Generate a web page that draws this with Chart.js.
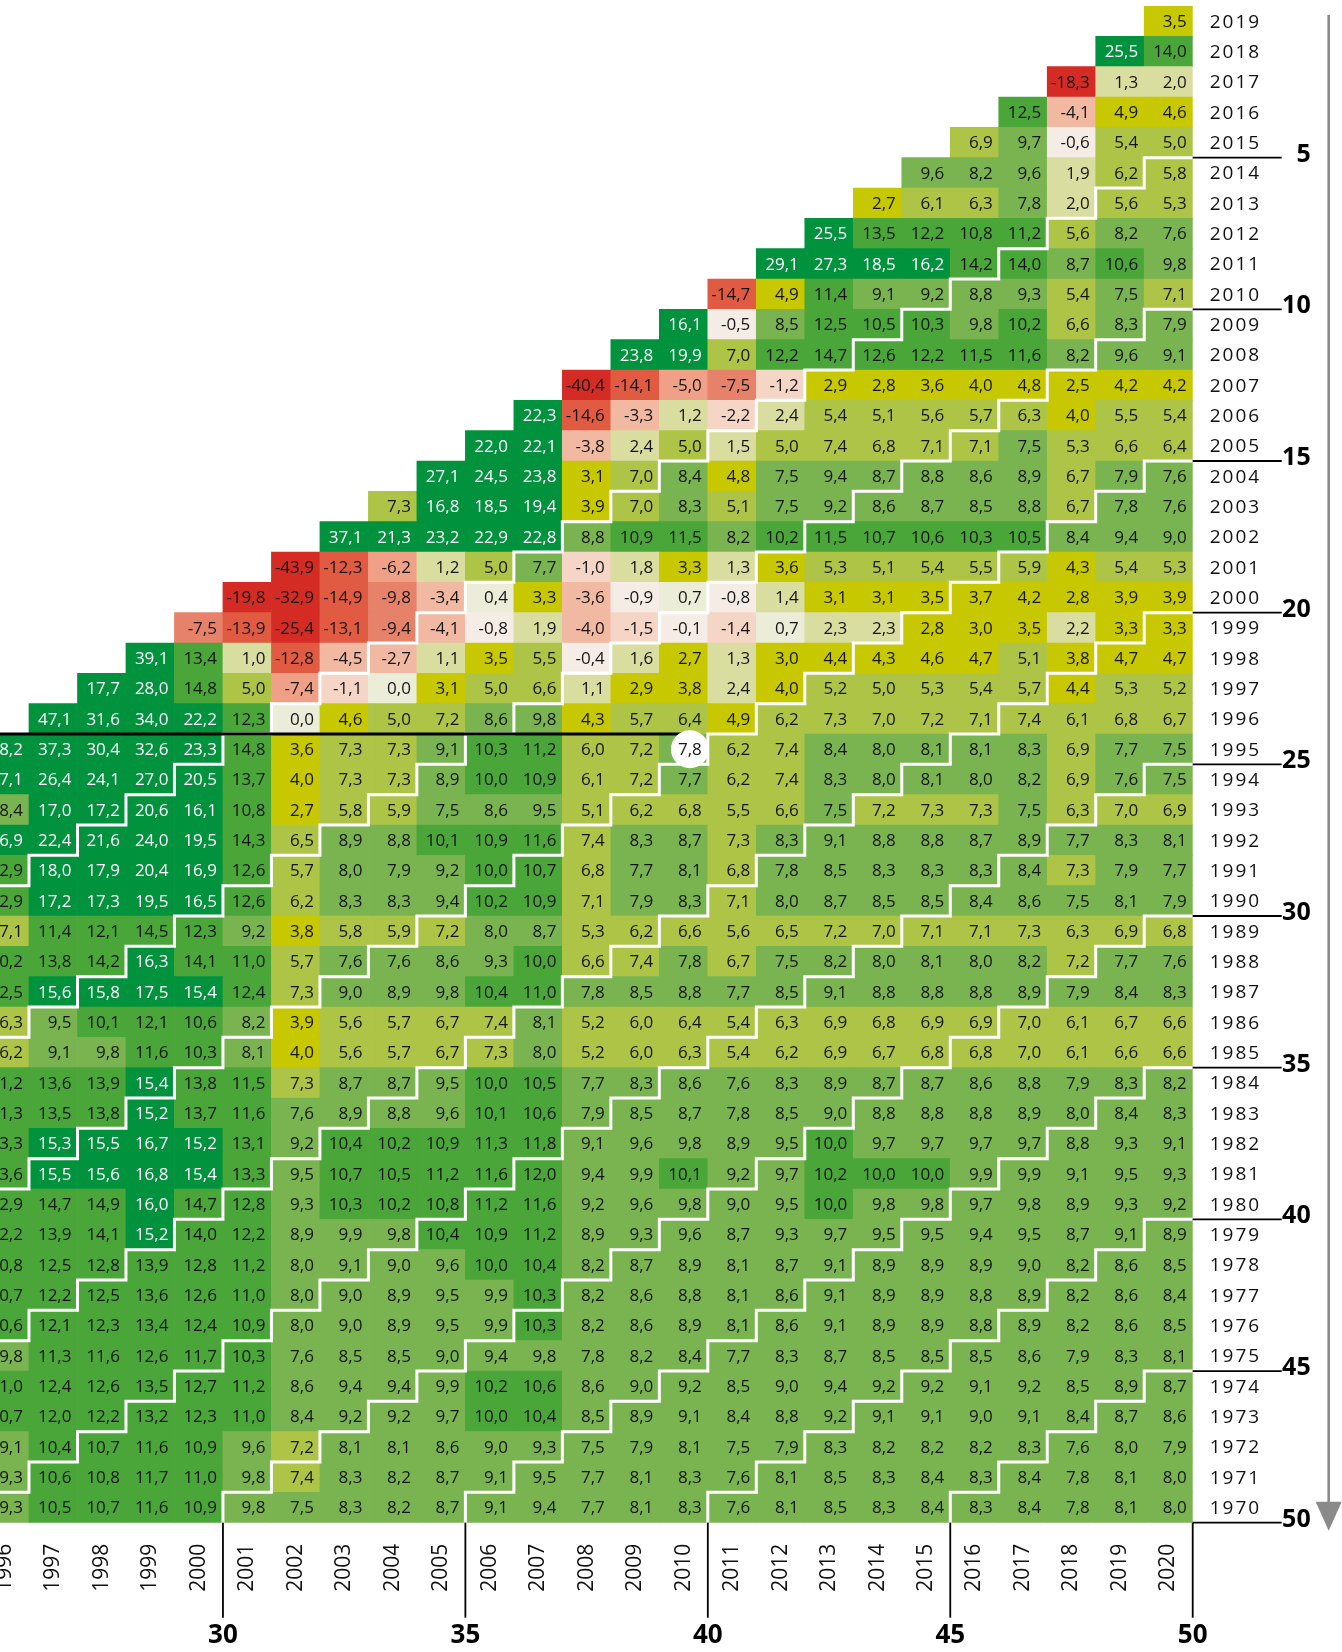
<!DOCTYPE html>
<html>
<head>
<meta charset="utf-8">
<title>Renditedreieck</title>
<script src="https://cdn.jsdelivr.net/npm/chart.js@4.4.1/dist/chart.umd.min.js"></script>
<style>
  html, body { margin: 0; padding: 0; background: #fff; }
  #wrap { position: relative; width: 1342px; height: 1652px; overflow: hidden; }
  #chart { position: absolute; left: -20px; top: 0; }
</style>
</head>
<body>
<div id="wrap"><canvas id="chart" width="1362" height="1652"></canvas></div>
<script>
// end year of the holding period (columns) and start year (rows)
const endYears = [1996, 1997, 1998, 1999, 2000, 2001, 2002, 2003, 2004, 2005, 2006, 2007, 2008,
  2009, 2010, 2011, 2012, 2013, 2014, 2015, 2016, 2017, 2018, 2019, 2020];
const startYears = [2019, 2018, 2017, 2016, 2015, 2014, 2013, 2012, 2011, 2010, 2009, 2008, 2007,
  2006, 2005, 2004, 2003, 2002, 2001, 2000, 1999, 1998, 1997, 1996, 1995, 1994, 1993, 1992, 1991,
  1990, 1989, 1988, 1987, 1986, 1985, 1984, 1983, 1982, 1981, 1980, 1979, 1978, 1977, 1976, 1975,
  1974, 1973, 1972, 1971, 1970];

// returns p.a. in %, each row ends in the 2020 column
const from2019 = [3.5];
const from2018 = [25.5, 14.0];
const from2017 = [-18.3, 1.3, 2.0];
const from2016 = [12.5, -4.1, 4.9, 4.6];
const from2015 = [6.9, 9.7, -0.6, 5.4, 5.0];
const from2014 = [9.6, 8.2, 9.6, 1.9, 6.2, 5.8];
const from2013 = [2.7, 6.1, 6.3, 7.8, 2.0, 5.6, 5.3];
const from2012 = [25.5, 13.5, 12.2, 10.8, 11.2, 5.6, 8.2, 7.6];
const from2011 = [29.1, 27.3, 18.5, 16.2, 14.2, 14.0, 8.7, 10.6, 9.8];
const from2010 = [-14.7, 4.9, 11.4, 9.1, 9.2, 8.8, 9.3, 5.4, 7.5, 7.1];
const from2009 = [16.1, -0.5, 8.5, 12.5, 10.5, 10.3, 9.8, 10.2, 6.6, 8.3, 7.9];
const from2008 = [23.8, 19.9, 7.0, 12.2, 14.7, 12.6, 12.2, 11.5, 11.6, 8.2, 9.6, 9.1];
const from2007 = [-40.4, -14.1, -5.0, -7.5, -1.2, 2.9, 2.8, 3.6, 4.0, 4.8, 2.5, 4.2, 4.2];
const from2006 = [22.3, -14.6, -3.3, 1.2, -2.2, 2.4, 5.4, 5.1, 5.6, 5.7, 6.3, 4.0, 5.5, 5.4];
const from2005 = [22.0, 22.1, -3.8, 2.4, 5.0, 1.5, 5.0, 7.4, 6.8, 7.1, 7.1, 7.5, 5.3, 6.6, 6.4];
const from2004 = [27.1, 24.5, 23.8, 3.1, 7.0, 8.4, 4.8, 7.5, 9.4, 8.7, 8.8, 8.6, 8.9, 6.7, 7.9, 7.6];
const from2003 = [7.3, 16.8, 18.5, 19.4, 3.9, 7.0, 8.3, 5.1, 7.5, 9.2, 8.6, 8.7, 8.5, 8.8, 6.7, 7.8, 7.6];
const from2002 = [37.1, 21.3, 23.2, 22.9, 22.8, 8.8, 10.9, 11.5, 8.2, 10.2, 11.5, 10.7, 10.6, 10.3, 10.5, 8.4, 9.4, 9.0];
const from2001 = [-43.9, -12.3, -6.2, 1.2, 5.0, 7.7, -1.0, 1.8, 3.3, 1.3, 3.6, 5.3, 5.1, 5.4, 5.5, 5.9, 4.3, 5.4, 5.3];
const from2000 = [-19.8, -32.9, -14.9, -9.8, -3.4, 0.4, 3.3, -3.6, -0.9, 0.7, -0.8, 1.4, 3.1, 3.1, 3.5, 3.7, 4.2, 2.8, 3.9, 3.9];
const from1999 = [-7.5, -13.9, -25.4, -13.1, -9.4, -4.1, -0.8, 1.9, -4.0, -1.5, -0.1, -1.4, 0.7, 2.3, 2.3, 2.8, 3.0, 3.5, 2.2, 3.3, 3.3];
const from1998 = [39.1, 13.4, 1.0, -12.8, -4.5, -2.7, 1.1, 3.5, 5.5, -0.4, 1.6, 2.7, 1.3, 3.0, 4.4, 4.3, 4.6, 4.7, 5.1, 3.8, 4.7, 4.7];
const from1997 = [17.7, 28.0, 14.8, 5.0, -7.4, -1.1, 0.0, 3.1, 5.0, 6.6, 1.1, 2.9, 3.8, 2.4, 4.0, 5.2, 5.0, 5.3, 5.4, 5.7, 4.4, 5.3, 5.2];
const from1996 = [47.1, 31.6, 34.0, 22.2, 12.3, 0.0, 4.6, 5.0, 7.2, 8.6, 9.8, 4.3, 5.7, 6.4, 4.9, 6.2, 7.3, 7.0, 7.2, 7.1, 7.4, 6.1, 6.8, 6.7];
const from1995 = [28.2, 37.3, 30.4, 32.6, 23.3, 14.8, 3.6, 7.3, 7.3, 9.1, 10.3, 11.2, 6.0, 7.2, 7.8, 6.2, 7.4, 8.4, 8.0, 8.1, 8.1, 8.3, 6.9, 7.7, 7.5];
const from1994 = [17.1, 26.4, 24.1, 27.0, 20.5, 13.7, 4.0, 7.3, 7.3, 8.9, 10.0, 10.9, 6.1, 7.2, 7.7, 6.2, 7.4, 8.3, 8.0, 8.1, 8.0, 8.2, 6.9, 7.6, 7.5];
const from1993 = [8.4, 17.0, 17.2, 20.6, 16.1, 10.8, 2.7, 5.8, 5.9, 7.5, 8.6, 9.5, 5.1, 6.2, 6.8, 5.5, 6.6, 7.5, 7.2, 7.3, 7.3, 7.5, 6.3, 7.0, 6.9];
const from1992 = [16.9, 22.4, 21.6, 24.0, 19.5, 14.3, 6.5, 8.9, 8.8, 10.1, 10.9, 11.6, 7.4, 8.3, 8.7, 7.3, 8.3, 9.1, 8.8, 8.8, 8.7, 8.9, 7.7, 8.3, 8.1];
const from1991 = [12.9, 18.0, 17.9, 20.4, 16.9, 12.6, 5.7, 8.0, 7.9, 9.2, 10.0, 10.7, 6.8, 7.7, 8.1, 6.8, 7.8, 8.5, 8.3, 8.3, 8.3, 8.4, 7.3, 7.9, 7.7];
const from1990 = [12.9, 17.2, 17.3, 19.5, 16.5, 12.6, 6.2, 8.3, 8.3, 9.4, 10.2, 10.9, 7.1, 7.9, 8.3, 7.1, 8.0, 8.7, 8.5, 8.5, 8.4, 8.6, 7.5, 8.1, 7.9];
const from1989 = [7.1, 11.4, 12.1, 14.5, 12.3, 9.2, 3.8, 5.8, 5.9, 7.2, 8.0, 8.7, 5.3, 6.2, 6.6, 5.6, 6.5, 7.2, 7.0, 7.1, 7.1, 7.3, 6.3, 6.9, 6.8];
const from1988 = [10.2, 13.8, 14.2, 16.3, 14.1, 11.0, 5.7, 7.6, 7.6, 8.6, 9.3, 10.0, 6.6, 7.4, 7.8, 6.7, 7.5, 8.2, 8.0, 8.1, 8.0, 8.2, 7.2, 7.7, 7.6];
const from1987 = [12.5, 15.6, 15.8, 17.5, 15.4, 12.4, 7.3, 9.0, 8.9, 9.8, 10.4, 11.0, 7.8, 8.5, 8.8, 7.7, 8.5, 9.1, 8.8, 8.8, 8.8, 8.9, 7.9, 8.4, 8.3];
const from1986 = [6.3, 9.5, 10.1, 12.1, 10.6, 8.2, 3.9, 5.6, 5.7, 6.7, 7.4, 8.1, 5.2, 6.0, 6.4, 5.4, 6.3, 6.9, 6.8, 6.9, 6.9, 7.0, 6.1, 6.7, 6.6];
const from1985 = [6.2, 9.1, 9.8, 11.6, 10.3, 8.1, 4.0, 5.6, 5.7, 6.7, 7.3, 8.0, 5.2, 6.0, 6.3, 5.4, 6.2, 6.9, 6.7, 6.8, 6.8, 7.0, 6.1, 6.6, 6.6];
const from1984 = [11.2, 13.6, 13.9, 15.4, 13.8, 11.5, 7.3, 8.7, 8.7, 9.5, 10.0, 10.5, 7.7, 8.3, 8.6, 7.6, 8.3, 8.9, 8.7, 8.7, 8.6, 8.8, 7.9, 8.3, 8.2];
const from1983 = [11.3, 13.5, 13.8, 15.2, 13.7, 11.6, 7.6, 8.9, 8.8, 9.6, 10.1, 10.6, 7.9, 8.5, 8.7, 7.8, 8.5, 9.0, 8.8, 8.8, 8.8, 8.9, 8.0, 8.4, 8.3];
const from1982 = [13.3, 15.3, 15.5, 16.7, 15.2, 13.1, 9.2, 10.4, 10.2, 10.9, 11.3, 11.8, 9.1, 9.6, 9.8, 8.9, 9.5, 10.0, 9.7, 9.7, 9.7, 9.7, 8.8, 9.3, 9.1];
const from1981 = [13.6, 15.5, 15.6, 16.8, 15.4, 13.3, 9.5, 10.7, 10.5, 11.2, 11.6, 12.0, 9.4, 9.9, 10.1, 9.2, 9.7, 10.2, 10.0, 10.0, 9.9, 9.9, 9.1, 9.5, 9.3];
const from1980 = [12.9, 14.7, 14.9, 16.0, 14.7, 12.8, 9.3, 10.3, 10.2, 10.8, 11.2, 11.6, 9.2, 9.6, 9.8, 9.0, 9.5, 10.0, 9.8, 9.8, 9.7, 9.8, 8.9, 9.3, 9.2];
const from1979 = [12.2, 13.9, 14.1, 15.2, 14.0, 12.2, 8.9, 9.9, 9.8, 10.4, 10.9, 11.2, 8.9, 9.3, 9.6, 8.7, 9.3, 9.7, 9.5, 9.5, 9.4, 9.5, 8.7, 9.1, 8.9];
const from1978 = [10.8, 12.5, 12.8, 13.9, 12.8, 11.2, 8.0, 9.1, 9.0, 9.6, 10.0, 10.4, 8.2, 8.7, 8.9, 8.1, 8.7, 9.1, 8.9, 8.9, 8.9, 9.0, 8.2, 8.6, 8.5];
const from1977 = [10.7, 12.2, 12.5, 13.6, 12.6, 11.0, 8.0, 9.0, 8.9, 9.5, 9.9, 10.3, 8.2, 8.6, 8.8, 8.1, 8.6, 9.1, 8.9, 8.9, 8.8, 8.9, 8.2, 8.6, 8.4];
const from1976 = [10.6, 12.1, 12.3, 13.4, 12.4, 10.9, 8.0, 9.0, 8.9, 9.5, 9.9, 10.3, 8.2, 8.6, 8.9, 8.1, 8.6, 9.1, 8.9, 8.9, 8.8, 8.9, 8.2, 8.6, 8.5];
const from1975 = [9.8, 11.3, 11.6, 12.6, 11.7, 10.3, 7.6, 8.5, 8.5, 9.0, 9.4, 9.8, 7.8, 8.2, 8.4, 7.7, 8.3, 8.7, 8.5, 8.5, 8.5, 8.6, 7.9, 8.3, 8.1];
const from1974 = [11.0, 12.4, 12.6, 13.5, 12.7, 11.2, 8.6, 9.4, 9.4, 9.9, 10.2, 10.6, 8.6, 9.0, 9.2, 8.5, 9.0, 9.4, 9.2, 9.2, 9.1, 9.2, 8.5, 8.9, 8.7];
const from1973 = [10.7, 12.0, 12.2, 13.2, 12.3, 11.0, 8.4, 9.2, 9.2, 9.7, 10.0, 10.4, 8.5, 8.9, 9.1, 8.4, 8.8, 9.2, 9.1, 9.1, 9.0, 9.1, 8.4, 8.7, 8.6];
const from1972 = [9.1, 10.4, 10.7, 11.6, 10.9, 9.6, 7.2, 8.1, 8.1, 8.6, 9.0, 9.3, 7.5, 7.9, 8.1, 7.5, 7.9, 8.3, 8.2, 8.2, 8.2, 8.3, 7.6, 8.0, 7.9];
const from1971 = [9.3, 10.6, 10.8, 11.7, 11.0, 9.8, 7.4, 8.3, 8.2, 8.7, 9.1, 9.5, 7.7, 8.1, 8.3, 7.6, 8.1, 8.5, 8.3, 8.4, 8.3, 8.4, 7.8, 8.1, 8.0];
const from1970 = [9.3, 10.5, 10.7, 11.6, 10.9, 9.8, 7.5, 8.3, 8.2, 8.7, 9.1, 9.4, 7.7, 8.1, 8.3, 7.6, 8.1, 8.5, 8.3, 8.4, 8.3, 8.4, 7.8, 8.1, 8.0];

// holding periods that get a staircase line / label
const periodMarks = [5, 10, 15, 20, 25, 30, 35, 40, 45, 50];
// the highlighted example: invest 1995, hold until 2010
const markedStart = 1995;
const markedEnd = 2010;

const rowValues = [from2019, from2018, from2017, from2016, from2015, from2014, from2013, from2012,
  from2011, from2010, from2009, from2008, from2007, from2006, from2005, from2004, from2003, from2002,
  from2001, from2000, from1999, from1998, from1997, from1996, from1995, from1994, from1993, from1992,
  from1991, from1990, from1989, from1988, from1987, from1986, from1985, from1984, from1983, from1982,
  from1981, from1980, from1979, from1978, from1977, from1976, from1975, from1974, from1973, from1972,
  from1971, from1970];

const posColors = ['#ecedd9', '#d9dda0', '#c8c800', '#adc447', '#7ab450', '#4aa638', '#00923d'];
const negColors = ['#f6ece6', '#f5d5c6', '#f1b9a2', '#efa086', '#e6816a', '#e05b41', '#d52b25'];
const bandSteps = [1, 2.5, 5, 7.5, 10, 15];

function cellColor(v) {
  const a = Math.abs(v);
  let k = 0;
  while (k < bandSteps.length && a >= bandSteps[k]) k++;
  return v < 0 ? negColors[k] : posColors[k];
}

function fmt(v) {
  return v.toFixed(1).replace('.', ',');
}

const cells = [];
startYears.forEach(function (s, r) {
  const vals = rowValues[r];
  const first = endYears.length - vals.length;
  vals.forEach(function (v, i) {
    cells.push({ x: endYears[first + i], y: [s - 0.5, s + 0.5], v: v, s: s });
  });
});

const FONT = '"Open Sans", "Noto Sans", sans-serif';

const overlay = {
  id: 'overlay',
  afterDatasetsDraw(chart) {
    const ctx = chart.ctx;
    const xs = chart.scales.x;
    const ys = chart.scales.y;
    const area = chart.chartArea;
    const px = (v) => xs.getPixelForValue(v);
    const py = (v) => ys.getPixelForValue(v);
    const lastYear = endYears[endYears.length - 1];
    const firstStart = startYears[startYears.length - 1];

    // white staircase lines between holding periods
    ctx.save();
    ctx.beginPath();
    ctx.rect(area.left, area.top, area.right - area.left, area.bottom - area.top);
    ctx.clip();
    ctx.strokeStyle = '#ffffff';
    ctx.lineWidth = 3;
    ctx.lineCap = 'square';
    periodMarks.forEach(function (p) {
      if (lastYear - p - 0.5 <= ys.min) return;
      ctx.beginPath();
      ctx.moveTo(px(lastYear + 0.5), py(lastYear - p - 0.5));
      for (let e = lastYear; e >= endYears[0]; e--) {
        const yTop = e - p - 0.5;
        if (yTop <= ys.min) break;
        ctx.lineTo(px(e - 0.5), py(yTop));
        ctx.lineTo(px(e - 0.5), py(Math.max(yTop - 1, ys.min)));
      }
      ctx.stroke();
    });
    ctx.restore();

    const meta = chart.getDatasetMeta(0);
    ctx.save();
    ctx.font = '17px ' + FONT;

    // highlighted cell: black line + white disc
    const mi = cells.findIndex(c => c.s === markedStart && c.x === markedEnd);
    if (mi >= 0) {
      const bar = meta.data[mi];
      const right = bar.x + bar.width / 2 - 6;
      const w = ctx.measureText(fmt(cells[mi].v)).width;
      const cx = right - w / 2;
      const cy = (bar.y + bar.base) / 2;
      ctx.strokeStyle = '#000';
      ctx.lineWidth = 3;
      ctx.beginPath();
      ctx.moveTo(0, py(markedStart + 0.5));
      ctx.lineTo(cx, py(markedStart + 0.5));
      ctx.stroke();
      ctx.fillStyle = '#fff';
      ctx.beginPath();
      ctx.arc(cx, cy, 19, 0, Math.PI * 2);
      ctx.fill();
    }

    // values
    ctx.textAlign = 'right';
    ctx.textBaseline = 'middle';
    meta.data.forEach(function (bar, i) {
      const c = cells[i];
      ctx.fillStyle = c.v >= 15 ? '#ffffff' : '#151515';
      ctx.fillText(fmt(c.v), bar.x + bar.width / 2 - 6, (bar.y + bar.base) / 2 + 1);
    });

    // start years on the right
    ctx.fillStyle = '#111';
    ctx.textAlign = 'left';
    ctx.font = '19px ' + FONT;
    if ('letterSpacing' in ctx) ctx.letterSpacing = '2px';
    startYears.forEach(function (s) {
      ctx.fillText(String(s), area.right + 17, py(s) + 1);
    });
    if ('letterSpacing' in ctx) ctx.letterSpacing = '0px';

    // end years at the bottom, rotated
    ctx.font = '21px ' + FONT;
    ctx.textAlign = 'center';
    endYears.forEach(function (e) {
      ctx.save();
      ctx.translate(px(e), area.bottom + 45);
      ctx.rotate(-Math.PI / 2);
      ctx.fillText(String(e), 0, 0);
      ctx.restore();
    });

    // holding period marks
    ctx.strokeStyle = '#000';
    ctx.lineWidth = 1.8;
    ctx.fillStyle = '#000';
    periodMarks.forEach(function (p) {
      const y = py(lastYear - p - 0.5);
      ctx.beginPath();
      ctx.moveTo(area.right, y);
      ctx.lineTo(area.right + 89, y);
      ctx.stroke();
      ctx.font = 'bold 25px ' + FONT;
      ctx.textAlign = 'right';
      ctx.fillText(String(p), area.right + 118, y - 3);

      const xe = firstStart + p + 0.5;
      if (xe - 1 >= xs.min) {
        const x = px(xe);
        ctx.beginPath();
        ctx.moveTo(x, area.bottom);
        ctx.lineTo(x, area.bottom + 95);
        ctx.stroke();
        ctx.font = 'bold 26px ' + FONT;
        ctx.textAlign = 'center';
        ctx.fillText(String(p), x, area.bottom + 113);
      }
    });

    // grey arrow at the right
    const ax = area.right + 136;
    ctx.strokeStyle = '#8a8a8a';
    ctx.fillStyle = '#8a8a8a';
    ctx.lineWidth = 2.6;
    ctx.beginPath();
    ctx.moveTo(ax, area.top + 9);
    ctx.lineTo(ax, area.bottom - 20);
    ctx.stroke();
    ctx.beginPath();
    ctx.moveTo(ax - 13, area.bottom - 21);
    ctx.lineTo(ax + 13, area.bottom - 21);
    ctx.lineTo(ax, area.bottom + 8);
    ctx.closePath();
    ctx.fill();

    ctx.restore();
  }
};

function draw() {
  new Chart(document.getElementById('chart').getContext('2d'), {
    type: 'bar',
    data: {
      datasets: [{
        data: cells,
        backgroundColor: (c) => (c.raw ? cellColor(c.raw.v) : '#fff'),
        borderWidth: 0,
        categoryPercentage: 1,
        barPercentage: 1,
      }],
    },
    options: {
      responsive: false,
      devicePixelRatio: 1,
      animation: false,
      layout: { padding: { left: 0.5, right: 149.3, top: 6, bottom: 129.3 } },
      plugins: { legend: { display: false }, tooltip: { enabled: false } },
      scales: {
        x: {
          type: 'linear',
          min: 1995.5,
          max: 2020.5,
          offset: false,
          display: false,
          afterBuildTicks: (s) => { s.ticks = endYears.map(v => ({ value: v })); },
        },
        y: {
          type: 'linear',
          min: 1969.5,
          max: 2019.5,
          display: false,
          afterBuildTicks: (s) => { s.ticks = startYears.map(v => ({ value: v })); },
        },
      },
    },
    plugins: [overlay],
  });
}

Promise.all([
  document.fonts.load('16px "Open Sans"'),
  document.fonts.load('bold 25px "Open Sans"'),
]).then(draw, draw);
</script>
</body>
</html>
